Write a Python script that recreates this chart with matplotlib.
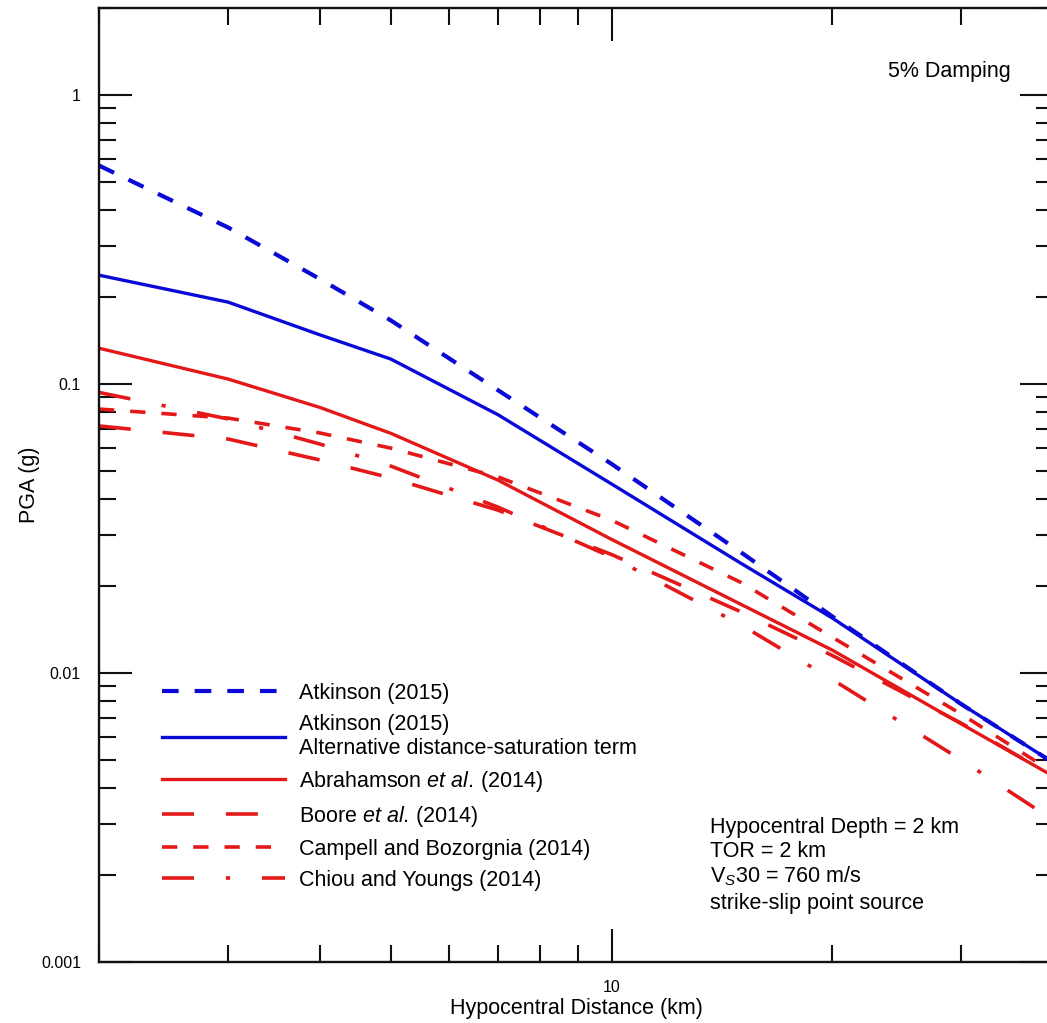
import numpy as np
import matplotlib
matplotlib.use('Agg')
import matplotlib.pyplot as plt

# hypocentral distance (km) where the curves were read
dist = [2, 3, 4, 5, 7, 10, 15, 20, 30, 40]

# PGA (g) for each model
atkinson = [0.570, 0.348, 0.231, 0.166, 0.0952, 0.0529, 0.0262, 0.0157, 0.0078, 0.0049]
atkinson_alt = [0.238, 0.192, 0.148, 0.122, 0.0783, 0.0451, 0.024, 0.0155, 0.0078, 0.0049]
abrahamson = [0.133, 0.104, 0.083, 0.0675, 0.0465, 0.029, 0.0173, 0.012, 0.00666, 0.0044]
boore = [0.0716, 0.0645, 0.0546, 0.0473, 0.0366, 0.0257, 0.0163, 0.0115, 0.0067, 0.0044]
campbell = [0.0819, 0.0762, 0.0677, 0.060, 0.0477, 0.0338, 0.0206, 0.0133, 0.0072, 0.00454]
chiou = [0.0935, 0.0757, 0.062, 0.052, 0.0375, 0.0252, 0.0147, 0.0095, 0.005, 0.0031]

y_ticks = [0.001, 0.01, 0.1, 1]
y_ticklabels = ['0.001', '0.01', '0.1', '1']
x_ticks = [10]
x_ticklabels = ['10']

labels = ['Atkinson (2015)',
          'Atkinson (2015)\nAlternative distance-saturation term',
          r'Abrahamson $\mathit{et\ al.}\,$(2014)',
          r'Boore $\mathit{et\ al.}\,$(2014)',
          'Campell and Bozorgnia (2014)',
          'Chiou and Youngs (2014)']

note_lines = ['Hypocentral Depth = 2 km', 'TOR = 2 km',
              r'V$_\mathit{S}$30 = 760 m/s', 'strike-slip point source']

plt.rcParams['font.family'] = ['Liberation Sans', 'DejaVu Sans']
plt.rcParams['mathtext.fontset'] = 'custom'
plt.rcParams['mathtext.rm'] = 'Liberation Sans'
plt.rcParams['mathtext.it'] = 'Liberation Sans:italic'
plt.rcParams['lines.scale_dashes'] = False

blue = '#0a0ad8'
red = '#e41818'
fs = 15.5

fig = plt.figure(figsize=(10.47, 10.23), dpi=100)
W, H = 1047., 1023.
ax = fig.add_axes([99 / W, (H - 962) / H, (1053 - 99) / W, (962 - 8) / H])

# draw curves
l_abr, = ax.plot(dist, abrahamson, color=red, lw=2.4)
l_boo, = ax.plot(dist, boore, color=red, lw=2.6, dashes=(23, 23))
l_chi, = ax.plot(dist, chiou, color=red, lw=2.6, dashes=(23, 23, 3, 23))
l_cam, = ax.plot(dist, campbell, color=red, lw=2.6, dashes=(11, 11.5))
l_alt, = ax.plot(dist, atkinson_alt, color=blue, lw=2.4)
l_atk, = ax.plot(dist, atkinson, color=blue, lw=3.0, dashes=(12, 11.5))

ax.set_xscale('log')
ax.set_yscale('log')
ax.set_xlim(2, 40)
ax.set_ylim(0.001, 2)

ax.set_xticks(x_ticks)
ax.set_xticklabels(x_ticklabels)
ax.set_xticks([2, 3, 4, 5, 6, 7, 8, 9, 20, 30, 40], minor=True)
ax.set_xticklabels([], minor=True)
ax.set_yticks(y_ticks)
ax.set_yticklabels(y_ticklabels)
ymin = [m * d for d in [0.001, 0.01, 0.1, 1] for m in range(2, 10) if m * d <= 2]
ax.set_yticks(ymin, minor=True)
ax.set_yticklabels([], minor=True)

ax.tick_params(which='both', direction='in', top=True, right=True,
               width=1.5, color='#111111')
ax.tick_params(which='major', length=23.5, pad=13, labelsize=11.5)
ax.tick_params(which='minor', length=12)
for s in ax.spines.values():
    s.set_linewidth(1.7)
    s.set_color('#111111')

ax.set_xlabel('Hypocentral Distance (km)', fontsize=fs)
ax.set_ylabel('PGA (g)', fontsize=fs)
ax.xaxis.set_label_coords(0.5, (962 - 998) / 954)
ax.yaxis.set_label_coords((40 - 99) / 954, 0.5)

ax.legend([l_atk, l_alt, l_abr, l_boo, l_cam, l_chi], labels,
          loc='upper left', bbox_to_anchor=(0.066, 0.2925),
          bbox_transform=ax.transAxes, frameon=False, fontsize=fs,
          borderpad=0, borderaxespad=0, handlelength=5.7,
          handletextpad=0.65, labelspacing=0.46)

ax.text((888 - 99) / 954, (962 - 77) / 954, '5% Damping', fontsize=fs,
        transform=ax.transAxes, va='baseline')

baselines = [833, 857, 882, 909]
for txt, b in zip(note_lines, baselines):
    ax.text((710 - 99) / 954, (962 - b) / 954, txt, fontsize=fs,
            transform=ax.transAxes, va='baseline')

fig.savefig('out.png', dpi=100)
